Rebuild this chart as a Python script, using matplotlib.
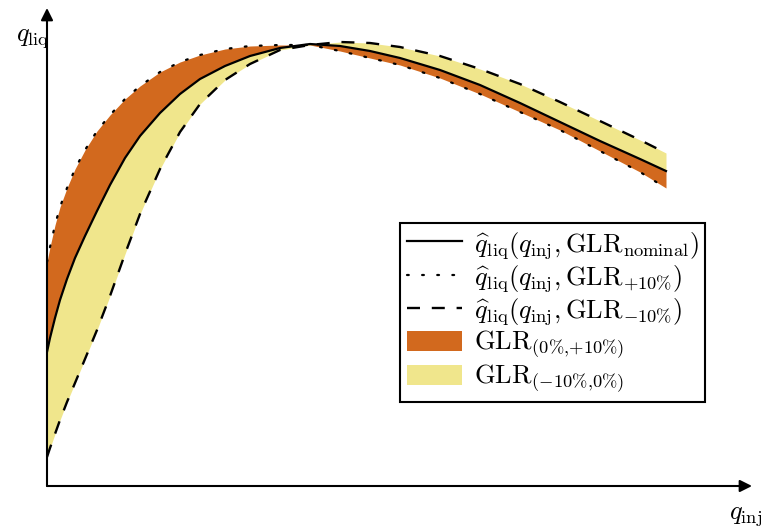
import numpy as np
import matplotlib
matplotlib.use("Agg")
import matplotlib.pyplot as plt

plt.rcParams["mathtext.fontset"] = "cm"
plt.rcParams["font.family"] = ["DejaVu Serif"]

# Curves (arbitrary units, no ticks on the chart).
q_inj = [0, 3, 8, 13, 20, 28, 38, 50, 63, 78, 93, 113, 133, 153, 178, 203,
         233, 263, 293, 323, 353, 393, 433, 473, 513, 553, 593, 619]
q_liq_nominal = [134, 148, 168, 186, 207, 228, 250, 275, 301, 328, 350, 373, 392, 407,
                 420, 430, 438, 442, 440, 435, 428, 416, 401, 383, 364, 345, 327, 315]
q_liq_plus10 = [224, 239, 261, 279, 298, 317, 336, 355, 371, 387, 400, 414, 424, 431,
                437, 440, 441, 441, 435, 428, 421, 408, 392, 374, 356, 335, 314, 298]
q_liq_minus10 = [29, 38, 52, 66, 84, 103, 127, 156, 190, 232, 272, 317, 354, 382,
                 406, 422, 436, 441, 444, 443, 439, 430, 417, 402, 384, 365, 346, 333]

labels = [
    r"$\widehat{q}_{\mathrm{liq}}(q_{\mathrm{inj}},\mathrm{GLR}_{\mathrm{nominal}})$",
    r"$\widehat{q}_{\mathrm{liq}}(q_{\mathrm{inj}},\mathrm{GLR}_{+10\%})$",
    r"$\widehat{q}_{\mathrm{liq}}(q_{\mathrm{inj}},\mathrm{GLR}_{-10\%})$",
    r"$\mathrm{GLR}_{(0\%{,}{+}10\%)}$",
    r"$\mathrm{GLR}_{(-10\%{,}0\%)}$",
]

orange = "#D2691E"
khaki = "#F0E68C"

W, H = 766, 528
fig = plt.figure(figsize=(W / 100, H / 100), dpi=100)
ax = fig.add_axes([47 / W, (H - 486) / H, 705 / W, 478 / H])
ax.set_xlim(0, 705)
ax.set_ylim(0, 478)

x = np.array(q_inj)
nom = np.array(q_liq_nominal)
up = np.array(q_liq_plus10)
dn = np.array(q_liq_minus10)

f1 = ax.fill_between(x, nom, up, color=orange, lw=0)
f2 = ax.fill_between(x, nom, dn, color=khaki, lw=0)
l1, = ax.plot(x, nom, color="k", lw=1.6)
l2, = ax.plot(x, up, color="k", lw=1.6, ls=(0, (0.8, 6)), dash_capstyle="round")
l3, = ax.plot(x, dn, color="k", lw=1.7, ls=(0, (5.5, 5)))

for s in ax.spines.values():
    s.set_visible(False)
ax.set_xticks([])
ax.set_yticks([])
ax.patch.set_alpha(0)

arrow = dict(arrowstyle="-|>", lw=1.5, color="k", mutation_scale=18, shrinkA=0, shrinkB=0)
ax.annotate("", xy=(1, 0), xytext=(0, 0), xycoords="axes fraction",
            arrowprops=arrow, annotation_clip=False)
ax.annotate("", xy=(0, 1), xytext=(0, 0), xycoords="axes fraction",
            arrowprops=arrow, annotation_clip=False)

fig.text(33 / W, 1 - 38 / H, r"$q_{\mathrm{liq}}$", fontsize=19, ha="center", va="center")
fig.text(746 / W, 1 - 516 / H, r"$q_{\mathrm{inj}}$", fontsize=19, ha="center", va="center")

leg = fig.legend([l1, l2, l3, f1, f2], labels, loc="upper left",
                 bbox_to_anchor=(400 / W, 1 - 223 / H), borderaxespad=0,
                 fontsize=19, frameon=True, fancybox=False, framealpha=1,
                 handlelength=2.1, handleheight=0.8, labelspacing=0.08,
                 borderpad=0.25, handletextpad=0.45)
leg.get_frame().set_edgecolor("k")
leg.get_frame().set_linewidth(1.5)

fig.savefig("out.png", dpi=100)
